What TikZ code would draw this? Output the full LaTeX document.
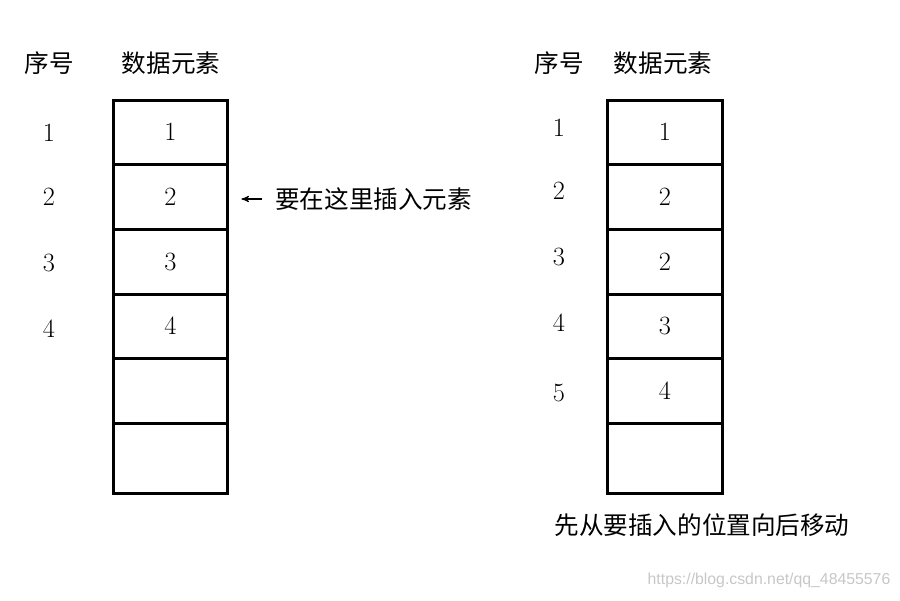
\documentclass[tikz,border=0pt]{standalone}
\usepackage{fontspec}
\newfontfamily\cjk{Noto Sans CJK SC}
\newfontfamily\wmfont{Liberation Sans}
\usetikzlibrary{arrows}

\begin{document}
\begin{tikzpicture}[x=0.02cm, y=-0.02cm, >=stealth']

        \def\cellw{2.3}             % width of a data cell (cm)
        \def\px{0.02}               % one pixel of the sketch (cm)
        \tikzstyle{cell}=[rectangle,draw=black,line width=1.7pt,minimum width=\cellw cm,inner sep=0pt]
        \tikzstyle{head}=[inner sep=0pt,font={\cjk\fontsize{14pt}{14pt}\selectfont}]
        \tikzset{fontscale/.style = {inner sep=0pt,font={\fontsize{#1pt}{#1pt}\selectfont}}}

        \useasboundingbox (0,0) rectangle (900,600);

        % Draw the left table
        \node[head] (Lseq) at (49,63) {序号};
        \node[head] (Ldata) at (171,63) {数据元素};
        \foreach \i/\yc/\h/\val in {1/132/64/1, 2/196.5/65/2, 3/261.5/65/3, 4/326/64/4, 5/390.5/65/{}, 6/458/70/{}}
                \node[cell, minimum height=\h*\px cm, font={\fontsize{15pt}{15pt}\selectfont}] (Lc-\i) at (170.5,\yc) {\val};
        \foreach \i/\yc in {1/133, 2/197, 3/263, 4/329}
                \node[fontscale=15] (Li-\i) at (49,\yc) {\i};

        % Insert note
        \node[head, anchor=west] (Lnote) at (275,199) {要在这里插入元素};
        \draw [->, line width=0.6pt, shorten <=13*\px cm, shorten >=12*\px cm] (Lnote.west) -- (Lnote.west -| Lc-2.east);

        % Draw the right table
        \node[head] (Rseq) at (559,63) {序号};
        \node[head] (Rdata) at (663,63) {数据元素};
        \foreach \i/\yc/\h/\val in {1/132/64/1, 2/196.5/65/2, 3/261.5/65/2, 4/326/64/3, 5/390.5/65/4, 6/458/70/{}}
                \node[cell, minimum height=\h*\px cm, font={\fontsize{15pt}{15pt}\selectfont}] (Rc-\i) at (665,\yc) {\val};
        \foreach \i/\yc in {1/128, 2/191, 3/257, 4/323, 5/393}
                \node[fontscale=15] (Ri-\i) at (559,\yc) {\i};

        \node[head] (Rnote) at (702,525) {先从要插入的位置向后移动};

        % watermark
        \node[inner sep=0pt, text=black!22, font={\wmfont\fontsize{9pt}{9pt}\selectfont}] (mark) at (769,580) {https://blog.csdn.net/qq\_48455576};

\end{tikzpicture}
\end{document}
